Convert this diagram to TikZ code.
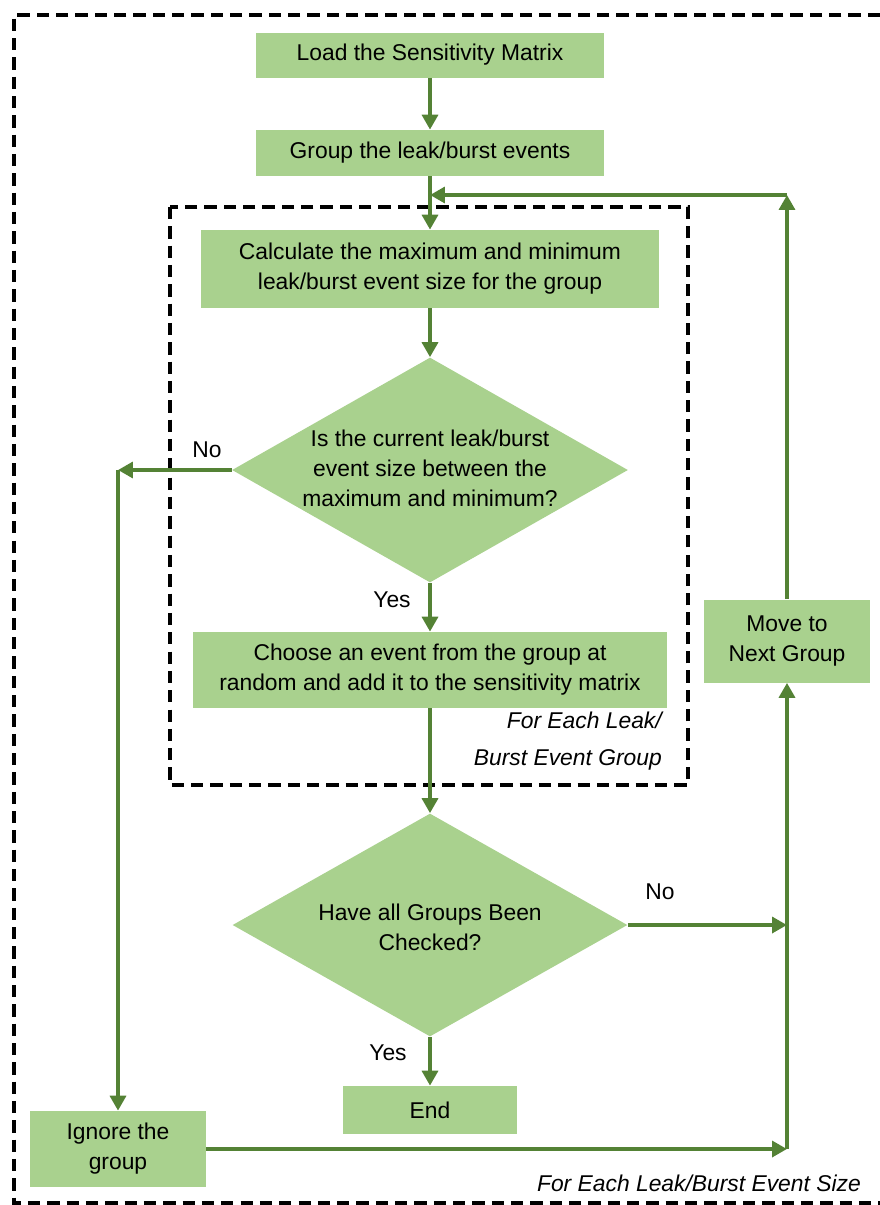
\documentclass[tikz,border=0pt]{standalone}
\usepackage{fontspec}
\setmainfont{Liberation Sans}
\usepackage{tikz}
\usetikzlibrary{shapes.geometric, arrows.meta, positioning}
\definecolor{boxgreen}{HTML}{A9D18E}
\definecolor{linegreen}{HTML}{548235}
\tikzset{
  procbox/.style={rectangle, draw=none, fill=boxgreen, inner sep=2pt,
                  align=center, font=\fontsize{13}{17}\selectfont},
  decision/.style={diamond, draw=none, fill=boxgreen, inner sep=0pt},
  dtext/.style={align=center, font=\fontsize{13}{17}\selectfont},
  flow/.style={draw=linegreen, line width=2.6pt,
               -{Triangle[length=8.5pt, width=9pt]}},
  frame/.style={draw=black, line width=2pt, dash pattern=on 7pt off 4pt},
  lbl/.style={font=\fontsize{13}{17}\selectfont},
  note/.style={font=\fontsize{13}{21}\selectfont\itshape, align=right},
}

\begin{document}
\begin{tikzpicture}[x=0.02cm, y=-0.02cm]
    \useasboundingbox (0,0) rectangle (880,1205);
    %% loop frames
    \draw[frame] (880,15) -- (14,15) -- (14,1203) -- (880,1203);
    \draw[frame] (170,207) rectangle (688,785);
    %% steps
    \node[procbox, minimum width=6.98cm, minimum height=0.9cm]  (load)  at (430,55)   {Load the Sensitivity Matrix};
    \node[procbox, minimum width=6.98cm, minimum height=0.92cm] (group) at (430,153)  {Group the leak/burst events};
    \node[procbox, minimum width=9.16cm, minimum height=1.56cm] (calc)  at (430,269)  {Calculate the maximum and minimum\\leak/burst event size for the group};
    \node[decision, minimum width=7.92cm, minimum height=4.5cm] (inrange) at (430,470) {};
    \node[dtext] (inrangeT) at (430,468) {Is the current leak/burst\\event size between the\\maximum and minimum?};
    \node[procbox, minimum width=9.5cm, minimum height=1.52cm]  (choose) at (430,670) {Choose an event from the group at\\random and add it to the sensitivity matrix};
    \node[decision, minimum width=7.9cm, minimum height=4.46cm] (checked) at (430,925) {};
    \node[dtext] (checkedT) at (430,927) {Have all Groups Been\\Checked?};
    \node[procbox, minimum width=3.5cm, minimum height=0.96cm]  (end)    at (430,1110) {End};
    \node[procbox, minimum width=3.52cm, minimum height=1.52cm] (ignore) at (118,1149) {Ignore the\\group};
    \node[procbox, minimum width=3.34cm, minimum height=1.66cm] (move)   at (787,641)  {Move to\\Next Group};
    %% turning points
    \coordinate (jL) at (118,470);
    \coordinate (jR) at (787,925);
    \coordinate (jB) at (787,1149);
    \coordinate (jT) at (787,195);
    \coordinate (jM) at (430,195);
    %% arrows
    \draw[flow] (load) -- (group);
    \draw[flow] (group) -- (calc);
    \draw[flow] (calc) -- (inrange);
    \draw[flow] (inrange) -- (choose);
    \draw[flow] (choose) -- (checked);
    \draw[flow] (checked) -- (end);
    \draw[flow] (inrange.west) -- (jL);
    \draw[flow] (jL) -- (ignore);
    \draw[flow] (checked.east) -- (jR);
    \draw[flow] (ignore.east) -- (jB);
    \draw[flow] (jB) -- (move);
    \draw[flow] (move) -- (jT);
    \draw[flow] (jT) -- (jM);
    %% labels
    \node[lbl] (no1)  at (207,450)  {No};
    \node[lbl] (yes1) at (392,600)  {Yes};
    \node[lbl] (no2)  at (660,892)  {No};
    \node[lbl] (yes2) at (388,1053) {Yes};
    \node[note, anchor=east] (inner) at (668,741)  {For Each Leak/\\Burst Event Group};
    \node[note, anchor=east] (outer) at (867,1183) {For Each Leak/Burst Event Size};
\end{tikzpicture}
\end{document}
